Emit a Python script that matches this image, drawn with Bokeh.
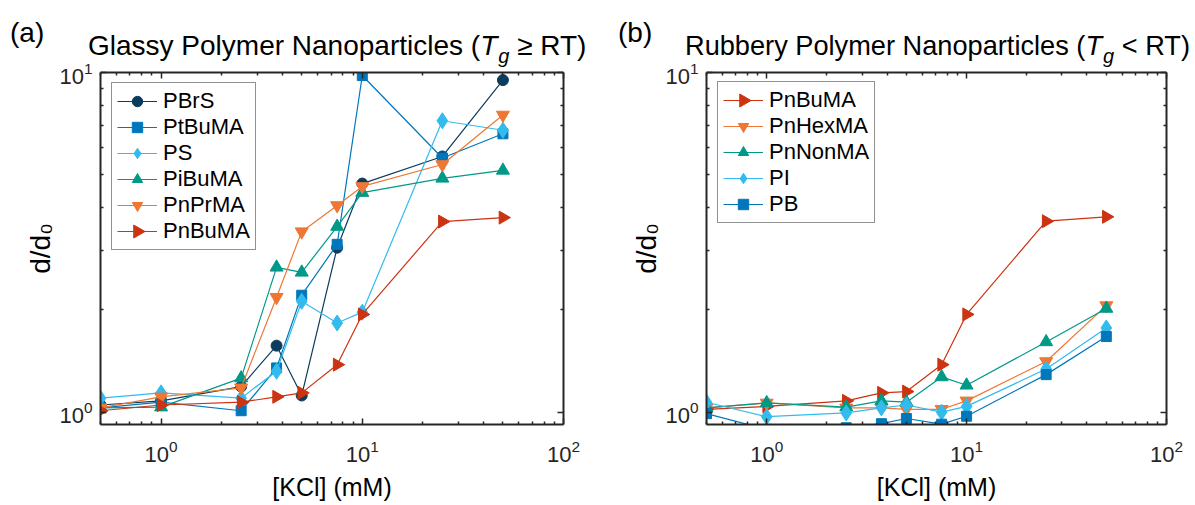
import math
from bokeh.plotting import figure
from bokeh.models import (LogAxis, Legend, LegendItem, Range1d, FixedTicker, Div,
                          CustomJSTickFormatter, LogTickFormatter)
from bokeh.layouts import row, column
from bokeh.embed import file_html
from bokeh.resources import INLINE

# ---------------- data ----------------
kcl = [0.5, 1, 2.5, 3.75, 5, 7.5, 10, 25, 50]

a_names = ["PBrS", "PtBuMA", "PS", "PiBuMA", "PnPrMA", "PnBuMA"]
a_PBrS = [1.05, 1.08, 1.19, 1.57, 1.12, 3.05, 4.71, 5.66, 9.5]
a_PtBuMA = [1.03, 1.07, 1.01, 1.35, 2.21, 3.12, 9.8, 5.6, 6.6]
a_PS = [1.10, 1.14, 1.10, 1.32, 2.12, 1.83, 1.97, 7.21, 6.76]
a_PiBuMA = [1.03, 1.035, 1.26, 2.67, 2.58, 3.52, 4.43, 4.88, 5.15]
a_PnPrMA = [1.03, 1.11, 1.18, 2.18, 3.40, 4.06, 4.62, 5.36, 7.5]
a_PnBuMA = [1.01, 1.05, 1.07, 1.11, 1.14, 1.38, 1.94, 3.64, 3.74]

b_names = ["PnBuMA", "PnHexMA", "PnNonMA", "PI", "PB"]
b_PnBuMA = [1.02, 1.04, 1.08, 1.14, 1.15, 1.38, 1.94, 3.65, 3.76]
b_PnHexMA = [1.03, 1.065, 1.03, 1.03, 1.02, 1.02, 1.08, 1.41, 2.06]
b_PnNonMA = [1.03, 1.065, 1.035, 1.08, 1.07, 1.27, 1.20, 1.61, 2.02]
b_PI = [1.07, 0.97, 0.995, 1.03, 1.05, 1.0, 1.04, 1.34, 1.77]
b_PB = [0.99, 0.89, 0.90, 0.925, 0.958, 0.922, 0.973, 1.29, 1.67]

x_range_vals = (0.5, 100)
y_range_vals = (0.92, 10)
x_major = [1, 10, 100]
y_major = [1, 10]
x_minor = [0.5, 0.6, 0.7, 0.8, 0.9, 2, 3, 4, 5, 6, 7, 8, 9, 20, 30, 40, 50, 60, 70, 80, 90]
y_minor = [2, 3, 4, 5, 6, 7, 8, 9]

FONT = "Liberation Sans"
AX = "#262626"
HEAD_H = 56
TOP_B = 16
BOT_B = 81
FIG_H = 505 - HEAD_H
FRAME_H = FIG_H - TOP_B - BOT_B
ROW_H = 26
LEG_PAD = 5
GLYPH_W = 40

# ---------------- styles ----------------
NAVY = "#0B3C5D"
BLUE = "#0077BB"
CYAN = "#33BBEE"
TEAL = "#009988"
ORANGE = "#EE7733"
RED = "#CC3311"

style = {
    "PBrS": (NAVY, "circle", 11, 0),
    "PtBuMA": (BLUE, "square", 10, 0),
    "PS": (CYAN, "diamond", 16, 0),
    "PiBuMA": (TEAL, "triangle", 13, 0),
    "PnPrMA": (ORANGE, "inverted_triangle", 13, 0),
    "PnBuMA": (RED, "triangle", 13, -math.pi / 2),
    "PnHexMA": (ORANGE, "inverted_triangle", 13, 0),
    "PnNonMA": (TEAL, "triangle", 13, 0),
    "PI": (CYAN, "diamond", 16, 0),
    "PB": (BLUE, "square", 10, 0),
}


def make_fig(width, left, right):
    p = figure(width=width, height=FIG_H, x_axis_type="log", y_axis_type="log",
               x_range=Range1d(*x_range_vals), y_range=Range1d(*y_range_vals),
               output_backend="svg", toolbar_location=None,
               min_border_left=left, min_border_right=right,
               min_border_top=TOP_B, min_border_bottom=BOT_B)
    p.grid.visible = False
    p.outline_line_color = None
    p.background_fill_color = "white"
    p.border_fill_alpha = 0
    bottom = p.below[0]
    leftax = p.left[0]
    top = LogAxis()
    rgt = LogAxis()
    p.add_layout(top, "above")
    p.add_layout(rgt, "right")
    bottom.ticker = FixedTicker(ticks=x_major, minor_ticks=x_minor)
    top.ticker = FixedTicker(ticks=x_major, minor_ticks=x_minor)
    leftax.ticker = FixedTicker(ticks=y_major, minor_ticks=y_minor)
    rgt.ticker = FixedTicker(ticks=y_major, minor_ticks=y_minor)
    for ax in [bottom, leftax, top, rgt]:
        ax.axis_line_color = AX
        ax.axis_line_width = 2
        ax.major_tick_line_color = AX
        ax.minor_tick_line_color = AX
        ax.major_tick_line_width = 1.5
        ax.minor_tick_line_width = 1.5
        ax.major_tick_in = 6
        ax.major_tick_out = 0
        ax.minor_tick_in = 3
        ax.minor_tick_out = 0
        ax.major_label_text_font = FONT
        ax.major_label_text_font_size = "22px"
        ax.major_label_text_color = AX
    for ax in [bottom, leftax]:
        ax.formatter = LogTickFormatter()
        ax.axis_label_text_font = FONT
        ax.axis_label_text_font_style = "normal"
        ax.axis_label_text_color = "black"
    for ax in [top, rgt]:
        ax.formatter = CustomJSTickFormatter(code="return ''")
        ax.major_label_text_font_size = "1px"
        ax.major_label_standoff = 0
    bottom.major_label_standoff = 15
    leftax.major_label_standoff = 8
    bottom.axis_label = "[KCl] (mM)"
    bottom.axis_label_text_font_size = "25px"
    bottom.axis_label_standoff = 8
    leftax.axis_label = "d/d\u2080"
    leftax.axis_label_text_font_size = "28px"
    leftax.axis_label_standoff = 0
    return p


def add_series(p, names, series):
    items = []
    for nm, ys in zip(names, series):
        col, mk, sz, ang = style[nm]
        lr = p.line(kcl, ys, line_color=col, line_width=1.2)
        sr = p.scatter(kcl, ys, marker=mk, size=sz, angle=ang,
                       fill_color=col, line_color=col)
        # legends cannot rotate markers: the right-pointing one is drawn separately
        rends = [lr] if ang != 0 else [lr, sr]
        items.append(LegendItem(label=nm, renderers=rends))
    return items


def px_to_data(sx, sy, frame_w):
    lx0, lx1 = math.log10(x_range_vals[0]), math.log10(x_range_vals[1])
    ly0, ly1 = math.log10(y_range_vals[0]), math.log10(y_range_vals[1])
    return (10 ** (lx0 + sx / frame_w * (lx1 - lx0)),
            10 ** (ly0 + sy / FRAME_H * (ly1 - ly0)))


def add_legend(p, items, loc, names, frame_w):
    lg = Legend(items=items, location=loc, label_text_font=FONT,
                label_text_font_size="22px", label_text_color="black",
                label_height=ROW_H, glyph_height=ROW_H, glyph_width=GLYPH_W, spacing=0,
                padding=LEG_PAD, margin=0, label_standoff=6,
                border_line_color=AX, border_line_width=1.5,
                background_fill_color="white", background_fill_alpha=0)
    p.add_layout(lg, "center")
    n = len(names)
    for i, nm in enumerate(names):
        col, mk, sz, ang = style[nm]
        if ang == 0:
            continue
        cx = loc[0] + LEG_PAD + 1 + GLYPH_W / 2
        cy = loc[1] + LEG_PAD + 1 + (n - 1 - i) * ROW_H + ROW_H / 2
        dx, dy = px_to_data(cx, cy, frame_w)
        p.scatter([dx], [dy], marker=mk, size=sz, angle=ang, level="overlay",
                  fill_color=col, line_color=col)


# ---------------- figure (a) ----------------
pa = make_fig(608, 100, 45)
items_a = add_series(pa, a_names, [a_PBrS, a_PtBuMA, a_PS, a_PiBuMA, a_PnPrMA, a_PnBuMA])
add_legend(pa, items_a, (11, 174), a_names, 608 - 100 - 45)

# ---------------- figure (b) ----------------
pb = make_fig(587, 98, 29)
items_b = add_series(pb, b_names, [b_PnBuMA, b_PnHexMA, b_PnNonMA, b_PI, b_PB])
add_legend(pb, items_b, (11, 201), b_names, 587 - 98 - 29)


def header(width, tag, head, rel, left, size):
    html = (
        f'<div style="position:relative;width:{width}px;height:{HEAD_H}px;overflow:visible;'
        f'font-family:\'Liberation Sans\';color:black;white-space:nowrap;">'
        f'<span style="position:absolute;left:10px;top:19px;font-size:28px;line-height:1;">{tag}</span>'
        f'<span style="position:absolute;left:{left}px;top:32px;font-size:{size}px;line-height:1;">'
        f'{head}<i>T</i><i style="position:relative;top:8px;font-size:20px;margin-left:1px;">g</i>'
        f'{rel}</span></div>'
    )
    return Div(text=html, width=width, height=HEAD_H, margin=0,
               styles={"overflow": "visible", "z-index": "5", "position": "relative"})


ha = header(608, "(a)", "Glassy Polymer Nanoparticles (", " \u2265 RT)", 88, 28)
hb = header(587, "(b)", "Rubbery Polymer Nanoparticles (", " &lt; RT)", 77, 27.2)

layout = column(row(ha, hb, spacing=0), row(pa, pb, spacing=0), spacing=0)
open("out.html", "w").write(file_html(layout, INLINE))
